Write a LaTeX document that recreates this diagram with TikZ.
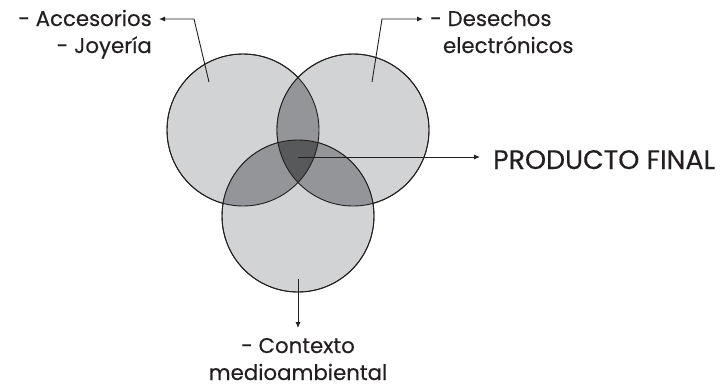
\documentclass[tikz,border=0pt]{standalone}
\usepackage{fontspec}
\setmainfont{Poppins}[FakeBold=0.3]
\usetikzlibrary{positioning,arrows.meta}
\definecolor{lightfill}{RGB}{209,211,212}
\definecolor{midfill}{RGB}{147,149,152}
\definecolor{darkfill}{RGB}{88,89,91}
\definecolor{inkline}{RGB}{35,31,32}

\begin{document}
\begin{tikzpicture}[x=1pt, y=-1pt,
        Set/.style = {circle, draw = inkline, line width = 0.9pt, minimum size = 152pt, inner sep = 0pt},
        Label/.style = {font = \fontsize{21.3}{27}\selectfont, text = inkline, inner sep = 0pt},
        Pointer/.style = {draw = inkline, line width = 0.9pt, -{Latex[length = 6pt, width = 5pt]}}]
        \useasboundingbox (0,0) rectangle (727,389);
        % the three sets
        \node [Set, fill = lightfill] (acc) at (243,130) {};
        \node [Set, fill = lightfill] (des) at (353,130) {};
        \node [Set, fill = lightfill] (ctx) at (298,216) {};
        % pairwise overlaps
        \begin{scope}
            \clip (acc.center) circle (76);
            \fill [midfill] (des.center) circle (76);
            \fill [midfill] (ctx.center) circle (76);
        \end{scope}
        \begin{scope}
            \clip (des.center) circle (76);
            \fill [midfill] (ctx.center) circle (76);
        \end{scope}
        % centre
        \begin{scope}
            \clip (acc.center) circle (76);
            \clip (des.center) circle (76);
            \fill [darkfill] (ctx.center) circle (76);
        \end{scope}
        \foreach \s in {acc, des, ctx} {
            \draw [inkline, line width = 0.9pt] (\s.center) circle (76);
        }
        % labels (base anchor sits on the last line)
        \node [Label, anchor = base east, align = right] (accText) at (152,53) {- Accesorios\\- Joyería};
        \node [Label, anchor = base west, align = left] (desText) at (430,53) {- Desechos\\\hspace{0.6em}electrónicos};
        \node [Label, anchor = base, align = center] (ctxText) at (298,380) {- Contexto\\medioambiental};
        \node [Label, font = \fontsize{26.8}{30}\selectfont, anchor = base west] (final) at (493,169) {PRODUCTO FINAL};
        % pointers
        \coordinate (accFrom) at (209,82);
        \coordinate (accBend) at (194,19);
        \coordinate (accTip) at (159,19);
        \coordinate (desFrom) at (372,82);
        \coordinate (desBend) at (382,19);
        \coordinate (desTip) at (423,19);
        \coordinate (ctxFrom) at (298,279);
        \coordinate (ctxTip) at (298,328);
        \coordinate (finalFrom) at (298,157);
        \coordinate (finalTip) at (480,157);
        \draw [Pointer] (accFrom) -- (accBend) -- (accTip);
        \draw [Pointer] (desFrom) -- (desBend) -- (desTip);
        \draw [Pointer] (ctxFrom) -- (ctxTip);
        \draw [Pointer] (finalFrom) -- (finalTip);
    \end{tikzpicture}
\end{document}
